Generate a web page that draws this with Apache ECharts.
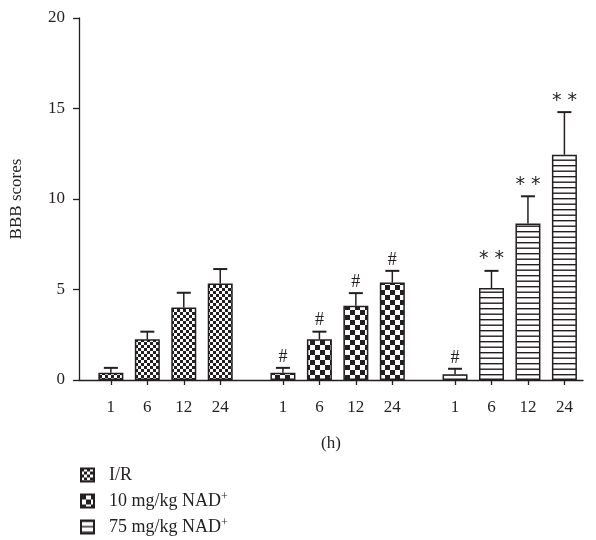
<!DOCTYPE html>
<html><head><meta charset="utf-8">
<script src="https://cdn.jsdelivr.net/npm/echarts@6/dist/echarts.min.js"></script>
<style>html,body{margin:0;padding:0;background:#fff}#c{width:596px;height:540px}</style>
</head><body><div id="c"></div>
<script>
// ---- data ----
const hours = ['1', '6', '12', '24'];
const groupNames = ['I/R', '10 mg/kg NAD+', '75 mg/kg NAD+'];
const irMean = [0.40, 2.25, 4.00, 5.33];
const irErr = [0.27, 0.42, 0.82, 0.80];
const nad10Mean = [0.40, 2.25, 4.10, 5.38];
const nad10Err = [0.27, 0.42, 0.70, 0.65];
const nad75Mean = [0.32, 5.08, 8.65, 12.45];
const nad75Err = [0.30, 0.95, 1.50, 2.35];
const irMarks = ['', '', '', ''];
const nad10Marks = ['#', '#', '#', '#'];
const nad75Marks = ['#', '**', '**', '**'];
const yTicks = [0, 5, 10, 15, 20];

// ---- layout ----
const groupStep = 4.72;
const means = [irMean, nad10Mean, nad75Mean];
const errs = [irErr, nad10Err, nad75Err];
const marks = [irMarks, nad10Marks, nad75Marks];
const FONT = '"Liberation Serif", "Times New Roman", serif';
const INK = '#231f20';

function makePattern(kind) {
  const c = document.createElement('canvas');
  const ctx = c.getContext('2d');
  if (kind === 0) {
    c.width = 6; c.height = 6;
    ctx.fillStyle = '#fff'; ctx.fillRect(0, 0, 6, 6);
    ctx.fillStyle = INK; ctx.fillRect(0, 0, 3, 3); ctx.fillRect(3, 3, 3, 3);
  } else if (kind === 1) {
    c.width = 10; c.height = 10;
    ctx.fillStyle = '#fff'; ctx.fillRect(0, 0, 10, 10);
    ctx.fillStyle = INK; ctx.fillRect(0, 0, 5, 5); ctx.fillRect(5, 5, 5, 5);
  } else {
    c.width = 4; c.height = 11;
    ctx.fillStyle = '#fff'; ctx.fillRect(0, 0, 4, 11);
    ctx.fillStyle = INK; ctx.fillRect(0, 0, 4, 1.4); ctx.fillRect(0, 5.5, 4, 1.4);
  }
  return { image: c, repeat: 'repeat' };
}

const xPos = [];
const xLab = {};
for (let g = 0; g < 3; g++) for (let i = 0; i < hours.length; i++) {
  const x = +(g * groupStep + i).toFixed(3);
  xPos.push(x); xLab[x] = hours[i];
}

const series = [];
for (let g = 0; g < 3; g++) {
  series.push({
    name: groupNames[g],
    type: 'bar',
    barWidth: 25,
    barGap: '-100%',
    itemStyle: { color: makePattern(g), borderColor: INK, borderWidth: 1.5 },
    data: means[g].map((v, i) => [g * groupStep + i, v]),
    z: 2
  });
}
for (let g = 0; g < 3; g++) {
  series.push({
    type: 'custom',
    z: 3,
    silent: true,
    data: means[g].map((v, i) => [g * groupStep + i, v, errs[g][i]]),
    renderItem: function (params, api) {
      const x = api.value(0), m = api.value(1), e = api.value(2);
      const base = api.coord([x, m]);
      const top = api.coord([x, m + e]);
      const mk = marks[g][params.dataIndex];
      const children = [
        { type: 'line', shape: { x1: base[0], y1: base[1], x2: top[0], y2: top[1] }, style: { stroke: INK, lineWidth: 1.5 } },
        { type: 'line', shape: { x1: top[0] - 7, y1: top[1], x2: top[0] + 7, y2: top[1] }, style: { stroke: INK, lineWidth: 2 } }
      ];
      if (mk) {
        children.push({
          type: 'text',
          style: {
            text: mk === '**' ? '* *' : mk,
            x: top[0], y: top[1] - 2,
            align: 'center', verticalAlign: 'bottom',
            font: mk === '**' ? '19px "DejaVu Sans", sans-serif' : '18px ' + FONT,
            fill: INK
          }
        });
      }
      return { type: 'group', children: children };
    }
  });
}

const chart = echarts.init(document.getElementById('c'), null, { renderer: 'canvas' });
chart.setOption({
  animation: false,
  backgroundColor: '#fff',
  textStyle: { fontFamily: FONT, color: INK },
  grid: { left: 77, right: 13, top: 18, bottom: 160, containLabel: false },
  legend: {
    orient: 'vertical',
    left: 80, top: 465, height: 90,
    padding: 0,
    itemWidth: 13, itemHeight: 13, itemGap: 6,
    icon: 'rect',
    data: groupNames,
    textStyle: {
      fontFamily: FONT, fontSize: 18, lineHeight: 20, color: INK, padding: [0, 0, 0, 10],
      rich: { sup: { fontFamily: FONT, fontSize: 12, color: INK, verticalAlign: 'top', padding: [0, 0, 9, 0] } }
    },
    formatter: function (n) { return n.replace('NAD+', 'NAD{sup|+}'); }
  },
  xAxis: {
    type: 'value',
    min: -0.874, max: 12.95,
    name: '(h)', nameLocation: 'middle', nameGap: 55,
    nameTextStyle: { fontFamily: FONT, fontSize: 17, color: INK },
    axisLine: { onZero: false, lineStyle: { color: INK, width: 1.3 } },
    axisTick: { show: true, customValues: xPos, length: 5, inside: false, lineStyle: { color: INK, width: 1.3 } },
    axisLabel: { customValues: xPos, formatter: v => xLab[+(+v).toFixed(3)] || '', fontFamily: FONT, fontSize: 17, color: INK, margin: 19 },
    splitLine: { show: false }
  },
  yAxis: {
    type: 'value',
    min: 0, max: 20, interval: 5,
    name: 'BBB scores', nameLocation: 'middle', nameGap: 54, nameRotate: 90,
    nameTextStyle: { fontFamily: FONT, fontSize: 17, color: INK },
    axisLine: { show: true, onZero: false, lineStyle: { color: INK, width: 1.3 } },
    axisTick: { show: true, length: 6, lineStyle: { color: INK, width: 1.3 } },
    axisLabel: { fontFamily: FONT, fontSize: 17, color: INK, margin: 14 },
    splitLine: { show: false }
  },
  series: series
});
</script>
</body></html>
